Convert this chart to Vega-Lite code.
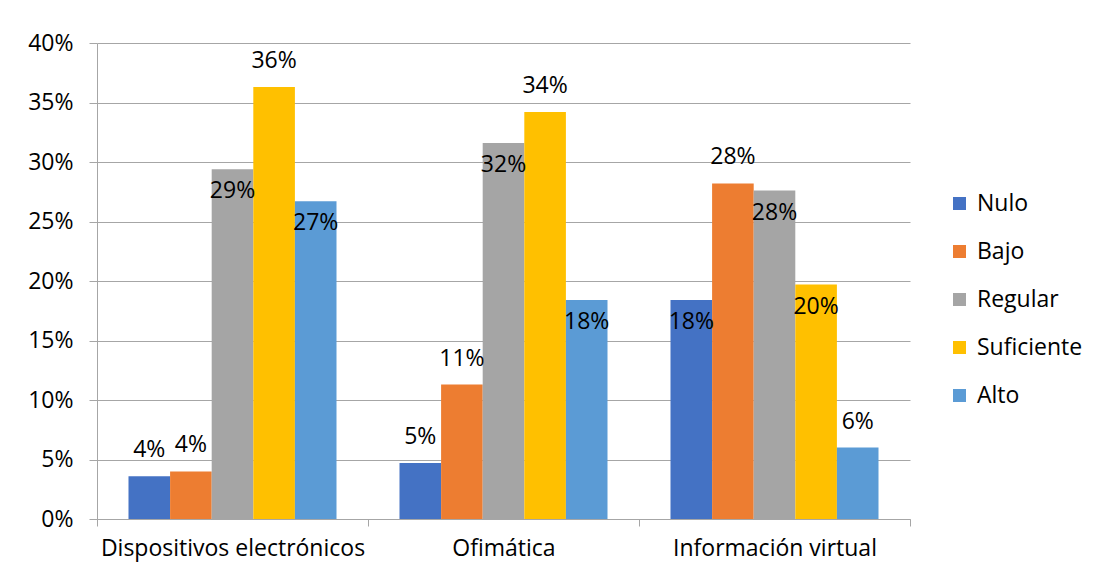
{
  "$schema": "https://vega.github.io/schema/vega-lite/v6.json",
  "width": 813,
  "height": 476,
  "autosize": {"type": "none"},
  "padding": {"left": 97, "top": 43, "right": 184, "bottom": 57},
  "background": "white",
  "config": {"view": {"stroke": null}, "font": "Open Sans"},
  "data": {
    "values": [
      {"categoria": "Dispositivos electrónicos", "nivel": "Nulo", "valor": 0.036},
      {"categoria": "Dispositivos electrónicos", "nivel": "Bajo", "valor": 0.040},
      {"categoria": "Dispositivos electrónicos", "nivel": "Regular", "valor": 0.294},
      {"categoria": "Dispositivos electrónicos", "nivel": "Suficiente", "valor": 0.363},
      {"categoria": "Dispositivos electrónicos", "nivel": "Alto", "valor": 0.267},
      {"categoria": "Ofimática", "nivel": "Nulo", "valor": 0.047},
      {"categoria": "Ofimática", "nivel": "Bajo", "valor": 0.113},
      {"categoria": "Ofimática", "nivel": "Regular", "valor": 0.316},
      {"categoria": "Ofimática", "nivel": "Suficiente", "valor": 0.342},
      {"categoria": "Ofimática", "nivel": "Alto", "valor": 0.184},
      {"categoria": "Información virtual", "nivel": "Nulo", "valor": 0.184},
      {"categoria": "Información virtual", "nivel": "Bajo", "valor": 0.282},
      {"categoria": "Información virtual", "nivel": "Regular", "valor": 0.276},
      {"categoria": "Información virtual", "nivel": "Suficiente", "valor": 0.197},
      {"categoria": "Información virtual", "nivel": "Alto", "valor": 0.060}
    ]
  },
  "encoding": {
    "x": {
      "field": "categoria",
      "type": "nominal",
      "sort": ["Dispositivos electrónicos", "Ofimática", "Información virtual"],
      "scale": {"paddingInner": 0, "paddingOuter": 0},
      "axis": {
        "title": null,
        "labelAngle": 0,
        "labelFontSize": 23,
        "labelLimit": 0,
        "labelColor": "#000000",
        "labelPadding": 11,
        "domainColor": "#a6a6a6",
        "tickColor": "#a6a6a6",
        "tickSize": 7,
        "tickBand": "extent",
        "grid": false
      }
    },
    "xOffset": {
      "field": "nivel",
      "type": "nominal",
      "sort": ["Nulo", "Bajo", "Regular", "Suficiente", "Alto"],
      "scale": {"paddingInner": 0, "paddingOuter": 0.757}
    },
    "y": {
      "field": "valor",
      "type": "quantitative",
      "scale": {"domain": [0, 0.4], "nice": false},
      "axis": {
        "title": null,
        "format": ".0%",
        "values": [0, 0.05, 0.1, 0.15, 0.2, 0.25, 0.3, 0.35, 0.4],
        "labelFontSize": 23,
        "labelColor": "#000000",
        "labelPadding": 16,
        "grid": true,
        "gridColor": "#a6a6a6",
        "domainColor": "#a6a6a6",
        "tickColor": "#a6a6a6",
        "tickSize": 8
      }
    }
  },
  "layer": [
    {
      "mark": {"type": "bar"},
      "encoding": {
        "color": {
          "field": "nivel",
          "type": "nominal",
          "sort": ["Nulo", "Bajo", "Regular", "Suficiente", "Alto"],
          "scale": {
            "domain": ["Nulo", "Bajo", "Regular", "Suficiente", "Alto"],
            "range": ["#4472C4", "#ED7D31", "#A5A5A5", "#FFC000", "#5B9BD5"]
          },
          "legend": {
            "title": null,
            "orient": "none",
            "legendX": 851,
            "legendY": 149,
            "symbolType": "square",
            "symbolSize": 170,
            "symbolStrokeWidth": 0,
            "symbolOpacity": 1,
            "labelFontSize": 23,
            "labelColor": "#000000",
            "labelOffset": 6,
            "rowPadding": 24
          }
        }
      }
    },
    {
      "transform": [
        {"filter": "!(datum.nivel == 'Regular' || (datum.nivel == 'Alto' && datum.categoria != 'Información virtual') || (datum.categoria == 'Información virtual' && (datum.nivel == 'Nulo' || datum.nivel == 'Suficiente')))"}
      ],
      "mark": {"type": "text", "dy": -26, "fontSize": 23, "color": "#000000", "baseline": "middle"},
      "encoding": {"text": {"field": "valor", "type": "quantitative", "format": ".0%"}}
    },
    {
      "transform": [
        {"filter": "datum.nivel == 'Regular' || (datum.nivel == 'Alto' && datum.categoria != 'Información virtual') || (datum.categoria == 'Información virtual' && (datum.nivel == 'Nulo' || datum.nivel == 'Suficiente'))"}
      ],
      "mark": {"type": "text", "dy": 22, "fontSize": 23, "color": "#000000", "baseline": "middle"},
      "encoding": {"text": {"field": "valor", "type": "quantitative", "format": ".0%"}}
    }
  ]
}
